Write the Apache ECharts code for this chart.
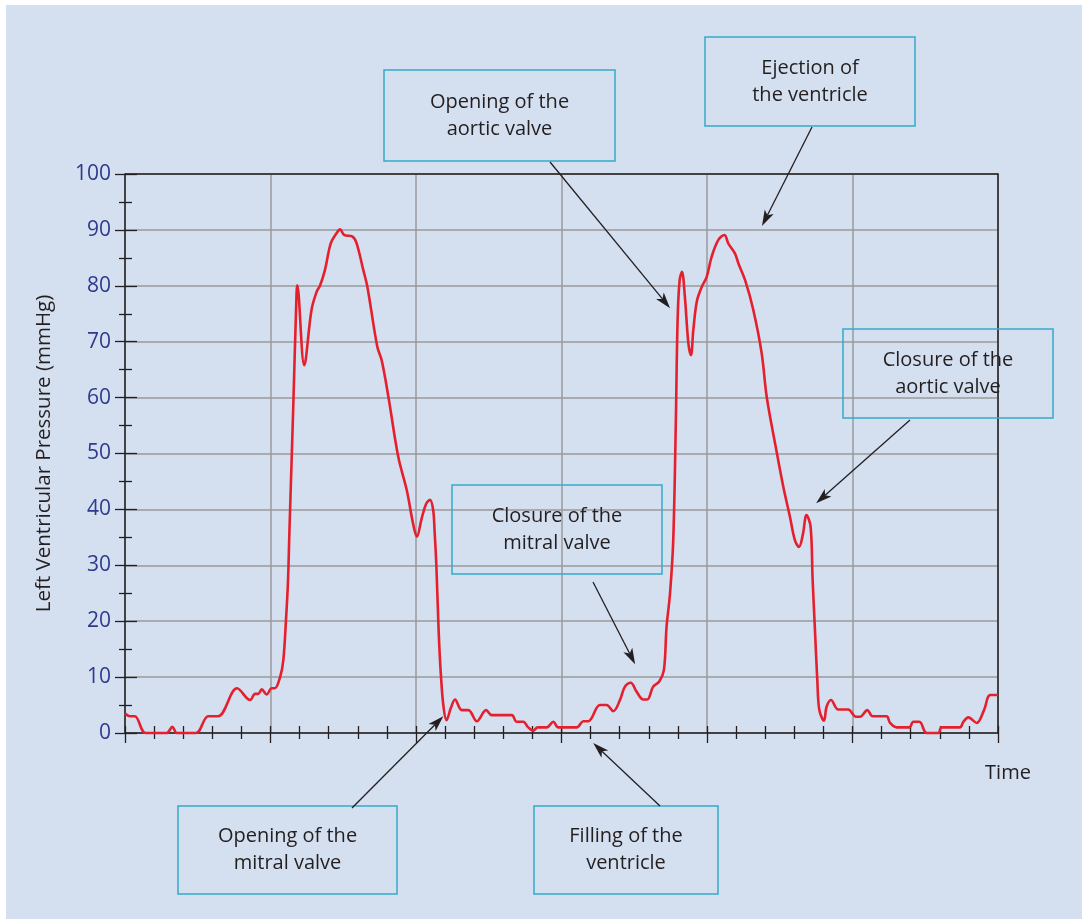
<!DOCTYPE html>
<html>
<head>
<meta charset="utf-8">
<script src="https://cdn.jsdelivr.net/npm/echarts@6/dist/echarts.min.js"></script>
<style>
  html, body { margin: 0; padding: 0; background: #ffffff; }
  #panel { position: absolute; left: 6px; top: 5px; right: 0; bottom: 0; background: #d4dff0; }
  #chart { position: absolute; left: 0; top: 0; width: 1082px; height: 919px; }
</style>
</head>
<body>
<div id="panel"></div>
<div id="chart"></div>
<script>
// Time (arbitrary units, one unit per minor tick) and left ventricular pressure (mmHg)
const timeValues = [
  0, 0.17, 0.34, 0.71, 1.43, 1.63, 1.78, 2.44, 2.86, 3.2,
  3.85, 4.3, 4.47, 4.58, 4.7, 4.87, 5.04, 5.15, 5.33, 5.44,
  5.53, 5.6, 5.65, 5.78, 5.88, 5.92, 6.16, 6.41, 6.59, 6.7,
  6.87, 7.07, 7.27, 7.39, 7.53, 7.82, 7.96, 8.19, 8.33, 8.67,
  8.82, 9.05, 9.39, 9.68, 9.91, 10.03, 10.2, 10.35, 10.48, 10.59,
  10.64, 10.7, 10.78, 10.86, 10.95, 11.05, 11.2, 11.34, 11.57, 11.8,
  12.09, 12.41, 12.6, 13.29, 13.46, 13.69, 13.84, 14.03, 14.18, 14.49,
  14.72, 14.89, 15.52, 15.75, 15.92, 16.32, 16.55, 16.78, 17.01, 17.18,
  17.38, 17.58, 17.81, 17.95, 18.15, 18.36, 18.52, 18.61, 18.73, 18.84,
  18.93, 18.99, 19.06, 19.14, 19.24, 19.36, 19.45, 19.53, 19.65, 19.82,
  19.99, 20.16, 20.39, 20.6, 20.73, 20.96, 21.08, 21.31, 21.59, 21.88,
  22.05, 22.34, 22.62, 22.85, 23.02, 23.16, 23.29, 23.42, 23.56, 23.63,
  23.71, 23.79, 23.86, 24.02, 24.11, 24.26, 24.51, 24.85, 25.12, 25.26,
  25.51, 25.69, 26.17, 26.29, 26.52, 26.95, 27.09, 27.3, 27.55, 27.95,
  28.06, 28.69, 28.81, 28.98, 29.27, 29.52, 29.73, 30
];
const pressureValues = [
  3.5, 3.0, 3.0, 0, 0, 1.1, 0, 0, 3.0, 3.0,
  8.0, 5.9, 7.0, 7.0, 7.8, 6.9, 8.0, 8.0, 10.0, 13.0,
  20.0, 27.0, 36.0, 58.0, 76.0, 80.1, 65.8, 75.7, 79.0, 80.0,
  82.8, 87.6, 89.4, 90.1, 89.1, 88.8, 87.6, 82.8, 79.8, 69.1,
  66.7, 60.2, 49.4, 43.5, 37.2, 35.1, 38.5, 41.0, 41.7, 39.9,
  36.0, 30.0, 18.0, 10.0, 4.5, 2.3, 4.5, 6.0, 4.1, 4.1,
  2.1, 4.1, 3.2, 3.2, 2.0, 2.0, 1.1, 0.4, 1.0, 1.0,
  2.0, 1.0, 1.0, 2.1, 2.1, 5.0, 5.0, 3.9, 5.9, 8.3,
  9.0, 7.4, 6.0, 6.0, 8.3, 9.2, 11.3, 19.0, 25.0, 34.5,
  56.0, 73.9, 81.0, 82.5, 78.0, 69.7, 67.6, 72.1, 77.2, 79.8,
  81.6, 85.2, 88.2, 89.1, 87.6, 85.8, 84.0, 81.0, 75.7, 67.9,
  60.2, 51.8, 44.1, 38.7, 34.5, 33.3, 35.4, 39.0, 36.9, 27.4,
  18.4, 9.5, 4.1, 2.2, 4.7, 5.9, 4.2, 4.2, 2.9, 2.9,
  4.1, 3.0, 3.0, 1.8, 1.0, 1.0, 2.0, 2.0, 0, 0,
  1.0, 1.0, 2.0, 2.8, 1.8, 4.1, 6.8, 6.8
];

// Axis scales
const timeTicks = [0, 5, 10, 15, 20, 25, 30];
const pressureTicks = [0, 10, 20, 30, 40, 50, 60, 70, 80, 90, 100];

// Callout texts and the point (time, pressure) each arrow points at
const calloutTexts = [
  'Opening of the\naortic valve',
  'Ejection of\nthe ventricle',
  'Closure of the\naortic valve',
  'Closure of the\nmitral valve',
  'Opening of the\nmitral valve',
  'Filling of the\nventricle'
];
const calloutTargets = [
  [18.73, 76.0],
  [21.89, 90.7],
  [23.75, 41.1],
  [17.53, 12.3],
  [10.94, 3.0],
  [16.09, -1.8]
];

// Layout of the callout boxes (x, y, width, height) and arrow tails, in pixels
const calloutBoxes = [
  [384, 70, 231, 91],
  [705, 37, 210, 89],
  [843, 329, 210, 89],
  [452, 485, 210, 89],
  [178, 806, 219, 88],
  [534, 806, 184, 88]
];
const calloutTails = [
  [550, 162],
  [812, 127],
  [910, 420],
  [593, 582],
  [352, 808],
  [660, 806]
];

const FONT = '"Open Sans", "Noto Sans", sans-serif';
const INK = '#231f20';
const AXIS = '#231f20';
const GRID = '#9a9a9a';

const chart = echarts.init(document.getElementById('chart'), null, { renderer: 'canvas' });

const xCommon = {
  type: 'value', gridIndex: 0, position: 'bottom',
  min: timeTicks[0], max: timeTicks[timeTicks.length - 1],
  interval: timeTicks[1] - timeTicks[0],
  axisLabel: { show: false }
};
const yCommon = {
  type: 'value', gridIndex: 0, position: 'left',
  min: pressureTicks[0], max: pressureTicks[pressureTicks.length - 1],
  interval: pressureTicks[1] - pressureTicks[0]
};
const tickLine = { color: AXIS, width: 1.3 };

chart.setOption({
  animation: false,
  backgroundColor: 'transparent',
  grid: {
    left: 125, top: 174, width: 873, height: 559,
    containLabel: false, outerBoundsMode: 'none',
    show: false
  },
  xAxis: [
    Object.assign({}, xCommon, {
      name: 'Time',
      nameLocation: 'end',
      nameGap: 10,
      nameTextStyle: { fontFamily: FONT, fontSize: 20, color: INK, align: 'center', verticalAlign: 'top', padding: [30, 0, 0, 0] },
      axisLine: { show: true, onZero: false, lineStyle: { color: AXIS, width: 1.5 } },
      axisTick: { show: true, inside: false, length: 10, lineStyle: tickLine },
      minorTick: { show: true, splitNumber: 5, length: 6, lineStyle: tickLine },
      splitLine: { show: true, lineStyle: { color: GRID, width: 1.5 } },
      minorSplitLine: { show: false }
    }),
    Object.assign({}, xCommon, {
      axisLine: { show: false },
      axisTick: { show: true, inside: true, length: 7, lineStyle: tickLine },
      minorTick: { show: true, splitNumber: 5, length: 7, lineStyle: tickLine },
      splitLine: { show: false },
      minorSplitLine: { show: false }
    })
  ],
  yAxis: [
    Object.assign({}, yCommon, {
      name: 'Left Ventricular Pressure (mmHg)',
      nameLocation: 'middle',
      nameGap: 70,
      nameTextStyle: { fontFamily: FONT, fontSize: 20.5, color: INK },
      axisLabel: { show: true, fontFamily: FONT, fontSize: 21, color: '#2e3a8c', margin: 14 },
      axisLine: { show: true, onZero: false, lineStyle: { color: AXIS, width: 1.5 } },
      axisTick: { show: true, inside: false, length: 10, lineStyle: tickLine },
      minorTick: { show: true, splitNumber: 2, length: 6, lineStyle: tickLine },
      splitLine: { show: true, lineStyle: { color: GRID, width: 1.5 } },
      minorSplitLine: { show: false }
    }),
    Object.assign({}, yCommon, {
      axisLabel: { show: false },
      axisLine: { show: false },
      axisTick: { show: true, inside: true, length: 12, lineStyle: tickLine },
      minorTick: { show: true, splitNumber: 2, length: 7, lineStyle: tickLine },
      splitLine: { show: false },
      minorSplitLine: { show: false }
    })
  ],
  series: [{
    type: 'line',
    xAxisIndex: 0,
    yAxisIndex: 0,
    data: timeValues.map((t, i) => [t, pressureValues[i]]),
    showSymbol: false,
    smooth: 0.35,
    clip: false,
    lineStyle: { color: '#e5202e', width: 2.6 },
    z: 5
  }]
});

// Arrow from a box edge to a point on the curve
function arrow(tail, tip) {
  const dx = tip[0] - tail[0], dy = tip[1] - tail[1];
  const len = Math.hypot(dx, dy);
  const ux = dx / len, uy = dy / len, nx = -uy, ny = ux;
  const L = 16, W = 5, notch = 4;
  const base = [tip[0] - ux * L, tip[1] - uy * L];
  const inner = [tip[0] - ux * (L - notch), tip[1] - uy * (L - notch)];
  return [
    { type: 'line', shape: { x1: tail[0], y1: tail[1], x2: inner[0], y2: inner[1] },
      style: { stroke: INK, lineWidth: 1.3 }, z: 10 },
    { type: 'polygon', shape: { points: [tip, [base[0] + nx * W, base[1] + ny * W], inner, [base[0] - nx * W, base[1] - ny * W]] },
      style: { fill: INK }, z: 10 }
  ];
}

const toPx = p => chart.convertToPixel({ xAxisIndex: 0, yAxisIndex: 0 }, p);
const elements = [];

// Dark frame along the top and right of the plot area
const tMin = timeTicks[0], tMax = timeTicks[timeTicks.length - 1];
const pMin = pressureTicks[0], pMax = pressureTicks[pressureTicks.length - 1];
elements.push({
  type: 'polyline',
  shape: { points: [toPx([tMin, pMax]), toPx([tMax, pMax]), toPx([tMax, pMin])] },
  style: { stroke: AXIS, lineWidth: 1.5, fill: null },
  z: 4
});

calloutTexts.forEach((text, i) => {
  const [bx, by, bw, bh] = calloutBoxes[i];
  elements.push({
    type: 'rect', shape: { x: bx, y: by, width: bw, height: bh },
    style: { fill: 'rgba(0,0,0,0)', stroke: '#34abc9', lineWidth: 1.5 }, z: 10
  });
  elements.push({
    type: 'text', x: bx + bw / 2, y: by + bh / 2,
    style: { text: text, fill: INK, font: '20px ' + FONT, align: 'center', verticalAlign: 'middle', lineHeight: 27 },
    z: 11
  });
  arrow(calloutTails[i], toPx(calloutTargets[i])).forEach(e => elements.push(e));
});

chart.setOption({ graphic: { elements: elements } });
</script>
</body>
</html>
